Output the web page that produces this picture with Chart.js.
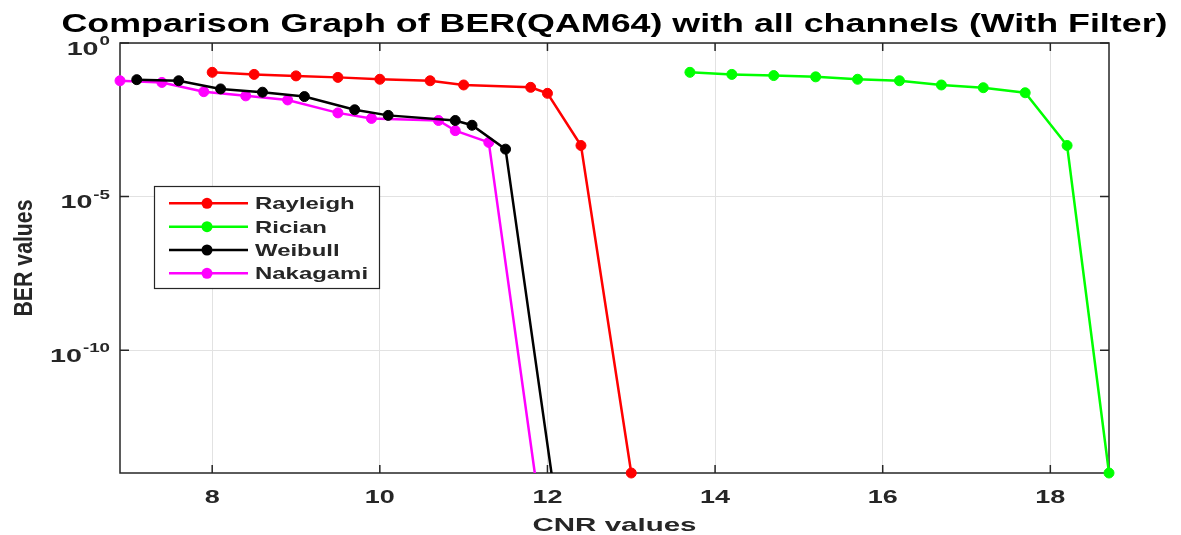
<!DOCTYPE html>
<html>
<head>
<meta charset="utf-8">
<script src="https://cdn.jsdelivr.net/npm/chart.js@4.4.1/dist/chart.umd.min.js"></script>
<style>
  html, body { margin: 0; padding: 0; background: #ffffff; }
  #wrap { width: 1181px; height: 535px; }
</style>
</head>
<body>
<div id="wrap"><canvas id="c" width="1181" height="535"></canvas></div>
<script>
// ---- chart text ----
const titleText = 'Comparison Graph of BER(QAM64) with all channels (With Filter)';
const xLabelText = 'CNR values';
const yLabelText = 'BER values';

// ---- series ----
const seriesNames = ['Rayleigh', 'Rician', 'Weibull', 'Nakagami'];
const seriesColors = ['#ff0000', '#00ff00', '#000000', '#ff00ff'];

const cnrRayleigh = [8.0, 8.5, 9.0, 9.5, 10.0, 10.6, 11.0, 11.8, 12.0, 12.4, 13.0];
const berRayleigh = [0.111, 0.095, 0.085, 0.076, 0.066, 0.059, 0.043, 0.036, 0.023, 4.6e-4, 1e-14];

const cnrRician = [13.7, 14.2, 14.7, 15.2, 15.7, 16.2, 16.7, 17.2, 17.7, 18.2, 18.7];
const berRician = [0.111, 0.095, 0.087, 0.079, 0.066, 0.059, 0.043, 0.035, 0.024, 4.6e-4, 1e-14];

const cnrWeibull = [7.1, 7.6, 8.1, 8.6, 9.1, 9.7, 10.1, 10.9, 11.1, 11.5, 12.1];
const berWeibull = [0.064, 0.059, 0.032, 0.025, 0.018, 0.0067, 0.0044, 0.0030, 0.0021, 3.5e-4, 1e-15];

const cnrNakagami = [6.9, 7.4, 7.9, 8.4, 8.9, 9.5, 9.9, 10.7, 10.9, 11.3, 11.9];
const berNakagami = [0.059, 0.052, 0.026, 0.019, 0.014, 0.0053, 0.0035, 0.0030, 0.0014, 5.8e-4, 1e-15];

// ---- axes ----
const xTicks = [8, 10, 12, 14, 16, 18];
const yTickExponents = [0, -5, -10];
const xMin = 6.9, xMax = 18.7;
const yMin = 1e-14, yMax = 1;

const FONT = '"Liberation Sans", Arial, Helvetica, sans-serif';
const AXIS_COLOR = '#262626';

function pairs(xs, ys) { return xs.map((x, i) => ({ x: x, y: ys[i] })); }

// Bold text drawn with a horizontal stretch (either a fixed factor or a target width)
function drawText(ctx, text, x, y, px, opt) {
  opt = opt || {};
  ctx.save();
  ctx.font = 'bold ' + px + 'px ' + FONT;
  const w = ctx.measureText(text).width;
  const sx = opt.width ? opt.width / w : (opt.sx || 1);
  ctx.translate(x, y);
  if (opt.rotate) ctx.rotate(opt.rotate);
  ctx.scale(sx, opt.sy || 1);
  ctx.textAlign = opt.align || 'center';
  ctx.textBaseline = 'alphabetic';
  ctx.fillStyle = opt.color || AXIS_COLOR;
  ctx.fillText(text, 0, 0);
  ctx.restore();
  return w * sx;
}

// Box, inward tick marks (under the data)
const frame = {
  id: 'frame',
  beforeDatasetsDraw(chart) {
    const { ctx, chartArea: a, scales } = chart;
    ctx.save();
    ctx.strokeStyle = AXIS_COLOR;
    ctx.lineWidth = 1.5;
    ctx.beginPath();
    xTicks.forEach(v => {
      const px = scales.x.getPixelForValue(v);
      ctx.moveTo(px, a.bottom); ctx.lineTo(px, a.bottom - 8);
      ctx.moveTo(px, a.top); ctx.lineTo(px, a.top + 8);
    });
    yTickExponents.forEach(e => {
      const py = scales.y.getPixelForValue(Math.pow(10, e));
      ctx.moveTo(a.left, py); ctx.lineTo(a.left + 9, py);
      ctx.moveTo(a.right, py); ctx.lineTo(a.right - 9, py);
    });
    ctx.stroke();
    ctx.strokeRect(a.left, a.top, a.right - a.left, a.bottom - a.top);
    ctx.restore();
  }
};

// Title, axis labels, tick labels and legend
const annotations = {
  id: 'annotations',
  afterDatasetsDraw(chart) {
    const { ctx, chartArea: a, scales } = chart;
    const cx = (a.left + a.right) / 2;

    drawText(ctx, titleText, cx, 32, 26, { width: 1106, color: '#000000' });

    xTicks.forEach(v => {
      drawText(ctx, String(v), scales.x.getPixelForValue(v), 503, 19, { sx: 1.42 });
    });
    drawText(ctx, xLabelText, cx, 531, 19, { width: 164 });

    yTickExponents.forEach(e => {
      const py = scales.y.getPixelForValue(Math.pow(10, e));
      const right = a.left - 10;
      const supW = drawText(ctx, String(e), right, py + 2, 12.5, { sx: 1.5, align: 'right' });
      drawText(ctx, '10', right - supW - 1, py + 11.5, 18.5, { sx: 1.55, align: 'right' });
    });

    drawText(ctx, yLabelText, 32, (a.top + a.bottom) / 2, 19,
      { width: 117, sy: 1.35, rotate: -Math.PI / 2 });

    // legend
    const box = { l: 154.5, t: 186.5, r: 379.5, b: 288.5 };
    ctx.save();
    ctx.fillStyle = '#ffffff';
    ctx.fillRect(box.l, box.t, box.r - box.l, box.b - box.t);
    ctx.strokeStyle = AXIS_COLOR;
    ctx.lineWidth = 1.2;
    ctx.strokeRect(box.l, box.t, box.r - box.l, box.b - box.t);
    chart.data.datasets.forEach((ds, i) => {
      const y = 203.3 + i * 23.35;
      ctx.strokeStyle = ds.borderColor;
      ctx.lineWidth = 2.5;
      ctx.beginPath();
      ctx.moveTo(169, y); ctx.lineTo(248, y);
      ctx.stroke();
      ctx.fillStyle = ds.borderColor;
      ctx.beginPath();
      ctx.arc(207, y, 5.5, 0, Math.PI * 2);
      ctx.fill();
      drawText(ctx, ds.label, 255, y + 6, 16.5, { sx: 1.45, align: 'left' });
    });
    ctx.restore();
  }
};

function series(i, xs, ys, clipBottom) {
  return {
    label: seriesNames[i],
    data: pairs(xs, ys),
    borderColor: seriesColors[i],
    backgroundColor: seriesColors[i],
    pointBackgroundColor: seriesColors[i],
    pointBorderColor: seriesColors[i],
    pointRadius: 5,
    pointBorderWidth: 1,
    borderWidth: 2.5,
    tension: 0,
    clip: { left: 8, top: 8, right: 8, bottom: clipBottom }
  };
}

new Chart(document.getElementById('c'), {
  type: 'line',
  data: {
    datasets: [
      series(0, cnrRayleigh, berRayleigh, 8),
      series(1, cnrRician, berRician, 8),
      series(2, cnrWeibull, berWeibull, 0),
      series(3, cnrNakagami, berNakagami, 0)
    ]
  },
  options: {
    responsive: false,
    animation: false,
    events: [],
    layout: { padding: { left: 120, top: 43, right: 72, bottom: 62 } },
    plugins: { legend: { display: false }, title: { display: false }, tooltip: { enabled: false } },
    scales: {
      x: {
        type: 'linear', min: xMin, max: xMax,
        afterBuildTicks: s => { s.ticks = xTicks.map(v => ({ value: v })); },
        afterFit: s => { s.height = 0; },
        ticks: { display: false },
        grid: { color: '#e2e2e2', lineWidth: 1, drawTicks: false },
        border: { display: false }
      },
      y: {
        type: 'logarithmic', min: yMin, max: yMax,
        afterBuildTicks: s => { s.ticks = yTickExponents.map(e => ({ value: Math.pow(10, e) })); },
        afterFit: s => { s.width = 0; },
        ticks: { display: false },
        grid: { color: '#e2e2e2', lineWidth: 1, drawTicks: false },
        border: { display: false }
      }
    }
  },
  plugins: [frame, annotations]
});
</script>
</body>
</html>
